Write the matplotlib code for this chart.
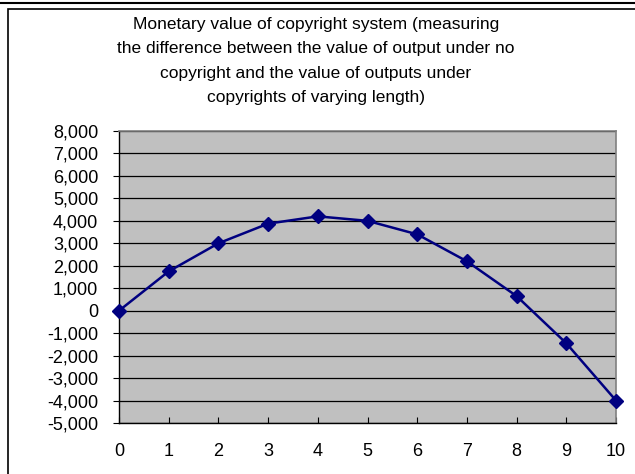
import matplotlib.pyplot as plt
from matplotlib.lines import Line2D
from matplotlib.patches import Rectangle

plt.rcParams['font.family'] = ['Liberation Sans', 'DejaVu Sans']

# copyright length (years) and monetary value
years = [0, 1, 2, 3, 4, 5, 6, 7, 8, 9, 10]
value = [0, 1750, 3000, 3875, 4200, 4000, 3400, 2200, 650, -1450, -4000]
yticks = list(range(-5000, 8001, 1000))

fig = plt.figure(figsize=(6.35, 4.74), dpi=100)
ax = fig.add_axes([119 / 635, 1 - 423 / 474, 497 / 635, 292 / 474])

# outer frame and top rule
fig.add_artist(Rectangle((8 / 635, -0.1), 1.2, 1 - 9 / 474 + 0.1,
                         transform=fig.transFigure, fill=False,
                         edgecolor='black', linewidth=1.2))
fig.add_artist(Line2D([0, 1], [1 - 3 / 474] * 2, transform=fig.transFigure,
                      color='black', linewidth=1.5))

ax.set_facecolor('#c0c0c0')
ax.plot(years, value, color='#000080', linewidth=1.8, marker='D',
        markersize=7, clip_on=False, zorder=3)

ax.set_xlim(0, 10)
ax.set_ylim(-5000, 8000)
ax.set_xticks(years)
ax.set_yticks(yticks)
ax.set_yticklabels([f'{t:,}' for t in yticks])
ax.yaxis.grid(True, color='black', linewidth=0.9)
ax.set_axisbelow(True)

ax.tick_params(axis='y', direction='out', length=4, pad=11, labelsize=13)
ax.tick_params(axis='x', direction='in', length=4, pad=14.5, labelsize=13)

for side in ['top', 'right']:
    ax.spines[side].set_color('#808080')
    ax.spines[side].set_linewidth(1.2)
for side in ['left', 'bottom']:
    ax.spines[side].set_color('black')
    ax.spines[side].set_linewidth(1.0)

fig.text(316 / 635, 1 - 61 / 474,
         'Monetary value of copyright system (measuring\n'
         'the difference between the value of output under no\n'
         'copyright and the value of outputs under\n'
         'copyrights of varying length)',
         ha='center', va='center', fontsize=12.5, linespacing=1.8)

fig.savefig('out.png', dpi=100)
